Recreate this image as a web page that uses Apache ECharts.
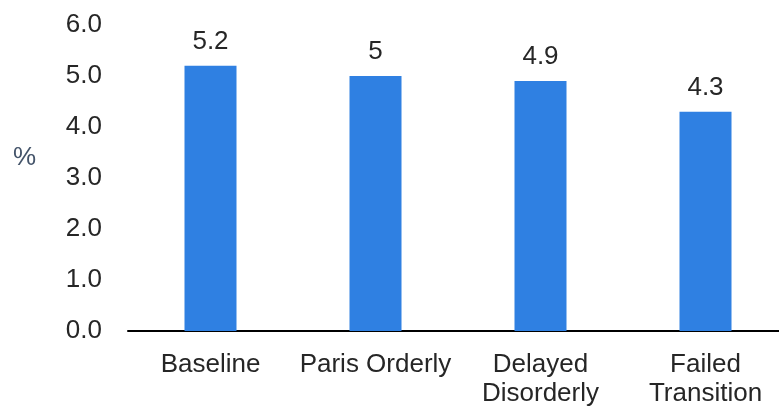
<!DOCTYPE html>
<html>
<head>
<meta charset="utf-8">
<script src="https://cdn.jsdelivr.net/npm/echarts@6/dist/echarts.min.js"></script>
<style>html,body{margin:0;padding:0;background:#fff;}#c{width:779px;height:408px;}</style>
</head>
<body>
<div id="c"></div>
<script>
const categories = ['Baseline', 'Paris Orderly', 'Delayed\nDisorderly', 'Failed\nTransition'];
const values = [5.2, 5, 4.9, 4.3];
const yTicks = { min: 0, max: 6, interval: 1 };
const unitLabel = '%';

const chart = echarts.init(document.getElementById('c'), null, { renderer: 'canvas' });
chart.setOption({
  animation: false,
  backgroundColor: '#ffffff',
  textStyle: { fontFamily: 'Liberation Sans, Arial, sans-serif' },
  grid: { left: 128, width: 660, top: 25, bottom: 77, containLabel: false, outerBoundsMode: 'none' },
  graphic: [{
    type: 'text', left: 13, top: 145,
    style: { text: unitLabel, fill: '#44546A', font: '26px Liberation Sans, Arial, sans-serif' }
  }],
  xAxis: {
    type: 'category',
    data: categories,
    axisLine: { show: true, lineStyle: { color: '#000', width: 2 } },
    axisTick: { show: false },
    axisLabel: { color: '#262626', fontSize: 26, lineHeight: 29, margin: 19, interval: 0 }
  },
  yAxis: {
    type: 'value',
    min: yTicks.min, max: yTicks.max, interval: yTicks.interval,
    axisLine: { show: false },
    axisTick: { show: false },
    splitLine: { show: false },
    axisLabel: { color: '#262626', fontSize: 26, margin: 26, formatter: v => v.toFixed(1) }
  },
  series: [{
    type: 'bar',
    data: values,
    barWidth: 52,
    itemStyle: { color: '#2F80E2' },
    label: { show: true, position: 'top', distance: 11, color: '#262626', fontSize: 26 }
  }]
});
</script>
</body>
</html>
